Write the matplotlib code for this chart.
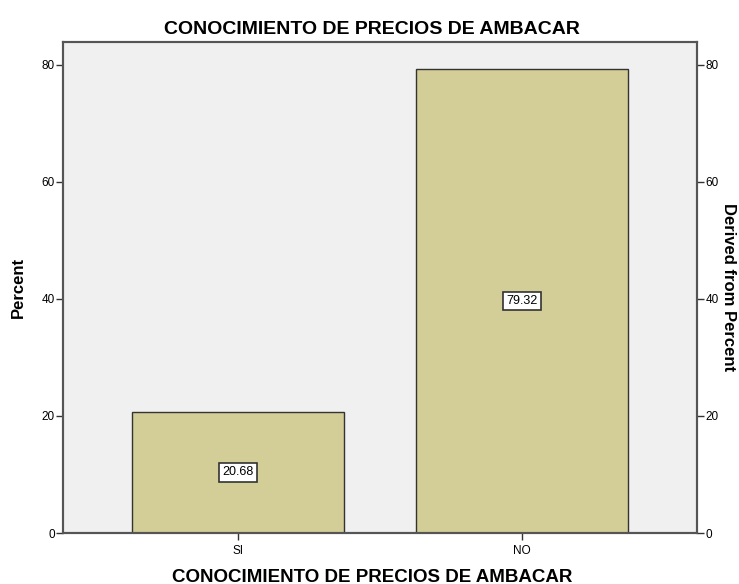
import matplotlib
matplotlib.use("Agg")
import matplotlib.pyplot as plt

plt.rcParams['font.family'] = ['Liberation Sans', 'DejaVu Sans']

categories = ["SI", "NO"]
percent = [20.68, 79.32]
yticks = [0, 20, 40, 60, 80]
title = "CONOCIMIENTO DE PRECIOS DE AMBACAR"

W, H = 739, 584
L, R, B, T = 63, 697, 533, 42
fig = plt.figure(figsize=(W/100, H/100), dpi=100)
ax = fig.add_axes([L/W, 1-B/H, (R-L)/W, (B-T)/H])
ax.set_facecolor('#F0F0F0')
x = list(range(len(categories)))
ax.bar(x, percent, width=0.745, color='#D3CE97', edgecolor='#333333', linewidth=1.0, zorder=2)
for xi, v in zip(x, percent):
    ax.text(xi, v/2, f"{v:.2f}", ha='center', va='center', fontsize=9,
            bbox=dict(boxstyle='square,pad=0.25', facecolor='white', edgecolor='#333333', linewidth=1.2), zorder=3)
ax.set_xlim(-0.615, 1.615)
ax.set_ylim(0, 83.9)
ax.set_xticks(x)
ax.set_xticklabels(categories, fontsize=8.5)
ax.set_yticks(yticks)
ax.set_yticklabels([str(t) for t in yticks], fontsize=8.5)
ax.tick_params(axis='both', direction='out', length=5, width=1, color='#333333', pad=1)
ax.tick_params(axis='x', pad=4)
for s in ax.spines.values():
    s.set_color('#555555')
    s.set_linewidth(1.5)
ax.spines['bottom'].set_color('#333333')

cx = (372 - L) / (R - L)
ax.set_ylabel("Percent", fontsize=12, fontweight='bold', va='center')
ax.yaxis.set_label_coords((18-L)/(R-L), 0.5)
ax.set_xlabel(title, fontsize=13.5, fontweight='bold', va='center')
ax.xaxis.set_label_coords(cx, (B-577)/(B-T))
ax.set_title(title, fontsize=14, fontweight='bold', pad=6, x=cx)

ax2 = ax.twinx()
ax2.set_ylim(0, 83.9)
ax2.set_yticks(yticks)
ax2.set_yticklabels([str(t) for t in yticks], fontsize=8.5)
ax2.tick_params(axis='y', direction='out', length=5, width=1, color='#333333', pad=1)
ax2.set_ylabel("Derived from Percent", fontsize=12, fontweight='bold', rotation=-90, va='center')
ax2.yaxis.set_label_coords((729-L)/(R-L), 0.5)
for s in ax2.spines.values():
    s.set_color('#555555')
    s.set_linewidth(1.5)

fig.savefig("out.png", dpi=100)
